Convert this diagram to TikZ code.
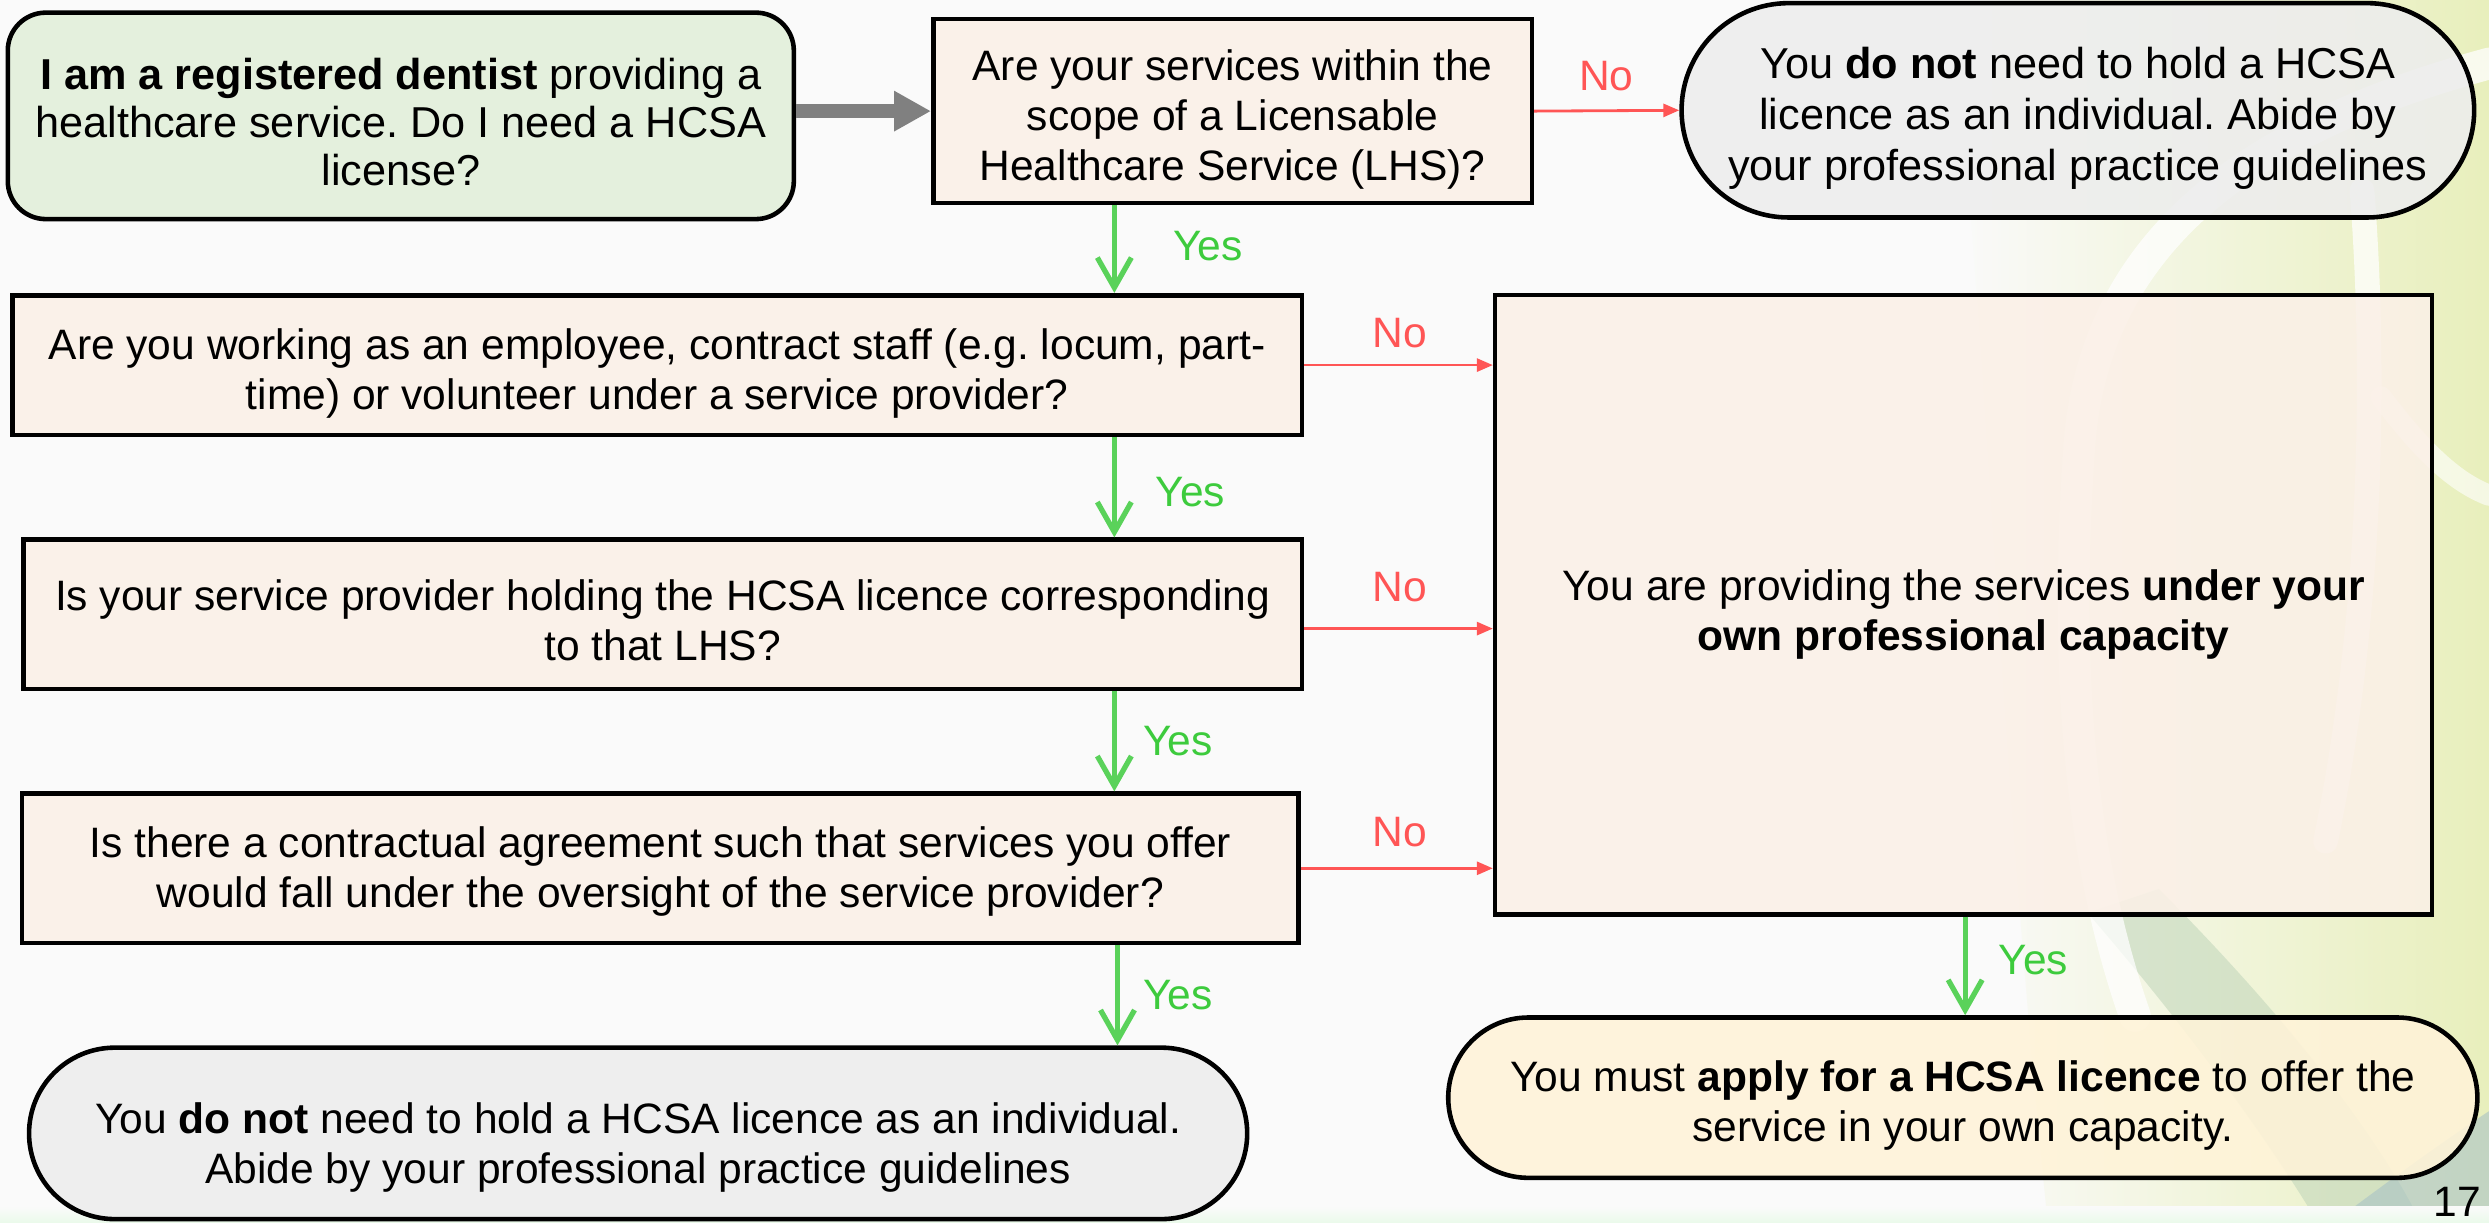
\documentclass[tikz,border=0pt]{standalone}
\usepackage{fontspec}
\setmainfont{Liberation Sans}
\usetikzlibrary{arrows.meta,shapes.misc}
\frenchspacing
\definecolor{bgcol}{HTML}{FAFAFA}
\definecolor{lgreen}{HTML}{E2EFD9}
\definecolor{peach}{HTML}{FBF0E7}
\definecolor{lgray}{HTML}{EDEDED}
\definecolor{lyellow}{HTML}{FFF3D8}
\definecolor{ygreen}{HTML}{5AD25A}
\definecolor{ytext}{HTML}{3DCB3D}
\definecolor{nored}{HTML}{FF5555}
\definecolor{garrow}{HTML}{808080}
\definecolor{leafy}{HTML}{E8EFBC}
\definecolor{leafteal}{HTML}{C3D7BC}
\definecolor{leafblue}{HTML}{A9C2C6}
\newcommand\fsz{\fontsize{12.1pt}{14.2pt}\selectfont\frenchspacing}
\newcommand\fszs{\fontsize{12.3pt}{13.6pt}\selectfont\frenchspacing}
\newcommand\fsze{\fontsize{12.3pt}{14.5pt}\selectfont\frenchspacing}
\newcommand\tu[1]{\rule{0pt}{#1}}
\tikzset{
  base/.style={draw=black, line width=1.3pt, align=center, inner sep=2pt, font=\fsz, fill opacity=0.88, text opacity=1},
  qbox/.style={base, rectangle, fill=peach},
  startbox/.style={base, rectangle, rounded corners=0.38cm, fill=lgreen, font=\fszs},
  term/.style={base, rounded rectangle, fill=#1},
  yesarrow/.style={draw=ygreen, line width=1.5pt, -{Straight Barb[length=0.3cm,width=0.34cm]}},
  noarrow/.style={draw=nored, line width=0.8pt, -{Triangle[length=0.16cm,width=0.13cm]}},
  grayarrow/.style={draw=garrow, line width=3.8pt, -{Triangle[length=0.37cm,width=0.38cm]}},
  yeslbl/.style={text=ytext, font=\fsz},
  nolbl/.style={text=nored, font=\fsz},
  band/.style={white, opacity=0.75, line cap=round},
}
\begin{document}
\begin{tikzpicture}[x=0.015874cm, y=-0.015874cm]
\useasboundingbox (0,0) rectangle (1568,770);
\fill[bgcol] (0,0) rectangle (1568,770);
% background leaf decoration
\shade[left color=bgcol, right color=leafy] (1230,0) -- (1568,0) -- (1568,770) -- (1290,770) .. controls (1262,500) and (1250,200) .. (1230,0);
\fill[leafteal, opacity=0.6] (1315,575) .. controls (1380,650) and (1430,720) .. (1460,770) -- (1525,770) .. controls (1490,700) and (1420,620) .. (1360,560) -- cycle;
\fill[leafblue, opacity=0.6] (1470,770) .. controls (1510,740) and (1545,715) .. (1568,700) -- (1568,770) -- cycle;
\draw[band, line width=9pt] (1568,40) .. controls (1420,80) and (1320,150) .. (1310,280) .. controls (1300,420) and (1310,540) .. (1345,640);
\draw[band, line width=7pt] (1488,120) .. controls (1498,250) and (1492,400) .. (1465,530);
\draw[band, line width=6pt, opacity=0.6] (1500,250) .. controls (1530,290) and (1550,305) .. (1568,312);
\shade[top color=bgcol, bottom color=ygreen!12] (0,760) rectangle (1568,770);

% nodes
\node[startbox, minimum width=7.858cm, minimum height=2.064cm] (start) at (252.5,73)
  {\tu{12.3pt}\textbf{I am a registered dentist} providing a\\healthcare service. Do I need a HCSA\\license?};
\node[qbox, minimum width=5.984cm, minimum height=1.841cm] (q1) at (776.5,70)
  {\tu{13.3pt}Are your services within the\\scope of a Licensable\\Healthcare Service (LHS)?};
\node[term=lgray, font=\fsze, minimum width=8.064cm, minimum height=2.143cm] (e1) at (1309,69.5)
  {\tu{13.5pt}You \textbf{do not} need to hold a HCSA\\licence as an individual. Abide by\\your professional practice guidelines};
\node[qbox, minimum width=12.890cm, minimum height=1.397cm] (q2) at (414,230)
  {\tu{13.4pt}Are you working as an employee, contract staff (e.g. locum, part-\\time) or volunteer under a service provider?};
\node[qbox, minimum width=12.779cm, minimum height=1.492cm] (q3) at (417.5,387)
  {\tu{12.4pt}Is your service provider holding the HCSA licence corresponding\\to that LHS?};
\node[qbox, minimum width=12.763cm, minimum height=1.492cm] (q4) at (416,547)
  {\tu{10.6pt}Is there a contractual agreement such that services you offer\\would fall under the oversight of the service provider?};
\node[term=lgray, minimum width=12.318cm, minimum height=1.714cm] (e2) at (402,714)
  {\tu{16.9pt}You \textbf{do not} need to hold a HCSA licence as an individual.\\Abide by your professional practice guidelines};
\node[qbox, minimum width=9.366cm, minimum height=6.191cm] (r) at (1237,381)
  {\tu{14.2pt}You are providing the services \textbf{under your}\\\textbf{own professional capacity}};
\node[term=lyellow, minimum width=10.429cm, minimum height=1.603cm] (e3) at (1236.5,691.5)
  {\tu{13.3pt}You must \textbf{apply for a HCSA licence} to offer the\\service in your own capacity.};
\node[font=\fsz] (pg) at (1548,757) {17};

% connectors
\draw[grayarrow] (start.east |- q1.west) -- (q1.west);
\draw[noarrow] (q1.east) -- (e1.west);
\node[nolbl] (no1) at (1012,48) {No};

\draw[yesarrow] (q1.south -| 702,0) -- (q2.north -| 702,0);
\node[yeslbl] (y1) at (761,155) {Yes};
\draw[yesarrow] (q2.south -| 702,0) -- (q3.north -| 702,0);
\node[yeslbl] (y2) at (750,310) {Yes};
\draw[yesarrow] (q3.south -| 702,0) -- (q4.north -| 702,0);
\node[yeslbl] (y3) at (742,467) {Yes};
\draw[yesarrow] (q4.south -| 704,0) -- (e2.north -| 704,0);
\node[yeslbl] (y4) at (742,627) {Yes};
\draw[yesarrow] (r.south -| 1238,0) -- (e3.north -| 1238,0);
\node[yeslbl] (y5) at (1281,605) {Yes};

\draw[noarrow] (q2.east) -- (q2.east -| r.west);
\node[nolbl] (no2) at (882,210) {No};
\draw[noarrow] ([yshift=-0.143cm]q3.east) -- ([yshift=-0.143cm]q3.east -| r.west);
\node[nolbl] (no3) at (882,370) {No};
\draw[noarrow] (q4.east) -- (q4.east -| r.west);
\node[nolbl] (no4) at (882,524) {No};
\end{tikzpicture}
\end{document}
